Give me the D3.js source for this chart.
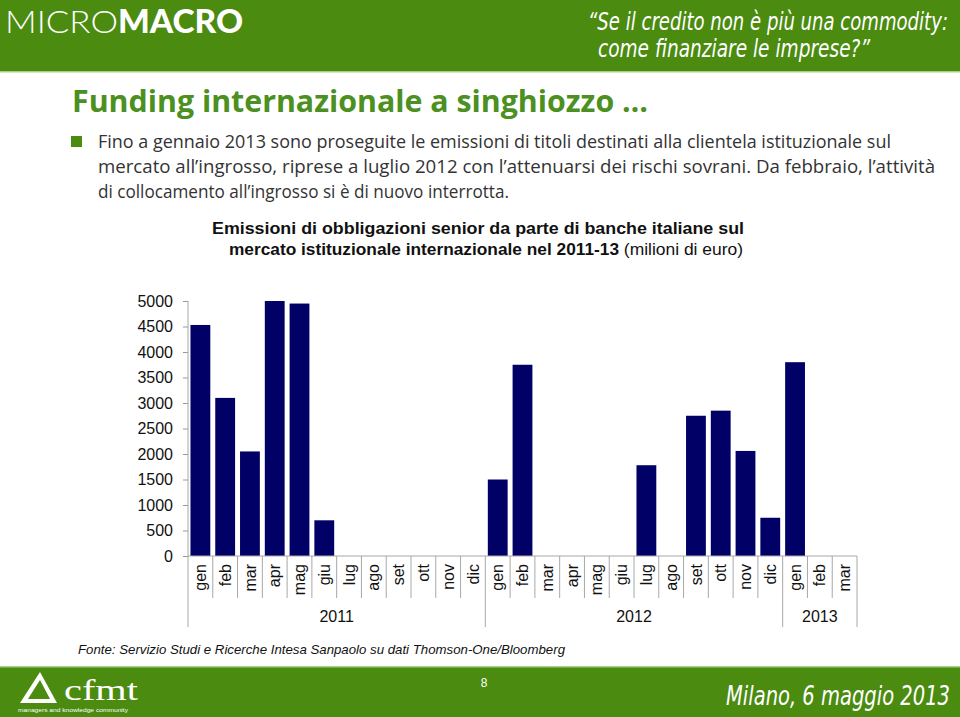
<!DOCTYPE html>
<html><head><meta charset="utf-8">
<script src="https://cdn.jsdelivr.net/npm/d3@7"></script>
<style>body{margin:0;background:#fff}svg{display:block}</style>
</head><body>
<script>
const months = ["gen","feb","mar","apr","mag","giu","lug","ago","set","ott","nov","dic",
                "gen","feb","mar","apr","mag","giu","lug","ago","set","ott","nov","dic",
                "gen","feb","mar"];
const years = ["2011","2012","2013"];
const yearCounts = [12,12,3];
const values = [4530,3100,2050,5000,4950,700,0,0,0,0,0,0,
                1500,3750,0,0,0,0,1780,0,2750,2850,2060,750,
                3800,0,0];
const yTicks = [0,500,1000,1500,2000,2500,3000,3500,4000,4500,5000];

const W=960,H=717;
const green="#4a8b10";
const svg=d3.select("body").append("svg").attr("width",W).attr("height",H);

// header
svg.append("rect").attr("x",0).attr("y",0).attr("width",W).attr("height",71).attr("fill",green);
svg.append("rect").attr("x",0).attr("y",71).attr("width",W).attr("height",1.5).attr("fill","#a9cf86");
const mm=svg.append("text").attr("x",5).attr("y",33).attr("fill","#fff")
  .style("font-family","Lato, 'Open Sans', sans-serif").style("font-size","32px");
mm.append("tspan").text("MICRO").style("font-weight","300").attr("textLength",113).attr("lengthAdjust","spacingAndGlyphs");
mm.append("tspan").text("MACRO").style("font-weight","900").attr("textLength",125).attr("lengthAdjust","spacingAndGlyphs");
const hq=[["\u201CSe il credito non è più una commodity:",588,30,360],["come finanziare le imprese?\u201D",598,57,272]];
hq.forEach(d=>svg.append("text").attr("transform",`translate(${d[1]},${d[2]}) scale(1,1.3)`).text(d[0]).attr("fill","#fff")
  .style("font-family","'Liberation Sans Narrow','DejaVu Sans Condensed',sans-serif").style("font-style","italic")
  .style("font-size","19.5px").attr("textLength",d[3]).attr("lengthAdjust","spacingAndGlyphs"));

// title
svg.append("text").attr("x",72).attr("y",112).text("Funding internazionale a singhiozzo …")
  .attr("fill","#4b9020").style("font-family","'Open Sans',sans-serif").style("font-weight","700")
  .style("font-size","31px").attr("textLength",576).attr("lengthAdjust","spacingAndGlyphs");

svg.append("rect").attr("x",71).attr("y",136).attr("width",11).attr("height",11).attr("fill",green);
const bl=[["Fino a gennaio 2013 sono proseguite le emissioni di titoli destinati alla clientela istituzionale sul",148,793],
          ["mercato all\u2019ingrosso, riprese a luglio 2012 con l\u2019attenuarsi dei rischi sovrani. Da febbraio, l\u2019attività",173,837],
          ["di collocamento all\u2019ingrosso si è di nuovo interrotta.",198,411]];
bl.forEach(d=>svg.append("text").attr("x",98).attr("y",d[1]).text(d[0]).attr("fill","#333")
  .style("font-family","'Open Sans',sans-serif").style("font-size","18px")
  .attr("textLength",d[2]).attr("lengthAdjust","spacingAndGlyphs"));

// chart title
svg.append("text").attr("x",212).attr("y",234).attr("fill","#111")
  .style("font-family","'Liberation Sans',Arial,sans-serif").style("font-size","16px").style("font-weight","700")
  .text("Emissioni di obbligazioni senior da parte di banche italiane sul")
  .attr("textLength",532).attr("lengthAdjust","spacingAndGlyphs");
const ct2=svg.append("text").attr("x",229).attr("y",255).attr("fill","#111")
  .style("font-family","'Liberation Sans',Arial,sans-serif").style("font-size","16px");
ct2.append("tspan").style("font-weight","700").text("mercato istituzionale internazionale nel 2011-13").attr("textLength",390).attr("lengthAdjust","spacingAndGlyphs");
ct2.append("tspan").text(" (milioni di euro)").attr("textLength",124).attr("lengthAdjust","spacingAndGlyphs");

// chart
const x0=188,x1=857,y0=556,yTop=301;
const keys=months.map((m,i)=>i);
const x=d3.scaleBand().domain(keys).range([x0,x1]).padding(0);
const y=d3.scaleLinear().domain([0,5000]).range([y0,yTop]);
const g=svg.append("g");
const yAxis=d3.axisLeft(y).tickValues(yTicks).tickSize(5).tickPadding(10).tickFormat(d3.format("d"));
const ya=g.append("g").attr("transform",`translate(${x0},0)`).call(yAxis);
ya.select(".domain").remove();
ya.selectAll(".tick line").attr("stroke","#999");
ya.selectAll(".tick text").attr("fill","#111").style("font-family","'Liberation Sans',Arial,sans-serif").style("font-size","16px");

g.selectAll("rect.bar").data(values).enter().append("rect").attr("class","bar")
  .attr("x",(d,i)=>x(i)+x.bandwidth()*0.1).attr("width",x.bandwidth()*0.8)
  .attr("y",d=>y(d)).attr("height",d=>y0-y(d)).attr("fill","#000066");

const grey="#a8a8a8";
g.append("line").attr("x1",x0).attr("x2",x0).attr("y1",yTop).attr("y2",627).attr("stroke",grey);
g.append("line").attr("x1",x0).attr("x2",x1).attr("y1",y0).attr("y2",y0).attr("stroke",grey);
let yearStarts=[];let acc=0;yearCounts.forEach(c=>{yearStarts.push(acc);acc+=c;});
keys.forEach(i=>{
  const bx=x(i)+x.bandwidth();
  const isYearEnd=yearStarts.includes(i+1)||i===keys.length-1;
  g.append("line").attr("x1",bx).attr("x2",bx).attr("y1",y0).attr("y2",isYearEnd?627:598).attr("stroke",grey);
});
g.selectAll("text.m").data(months).enter().append("text").attr("class","m")
  .attr("transform",(d,i)=>`translate(${x(i)+x.bandwidth()/2},564) rotate(-90)`)
  .attr("dy","0.35em").attr("text-anchor","end").text(d=>d).attr("fill","#111")
  .style("font-family","'Liberation Sans',Arial,sans-serif").style("font-size","16px");
years.forEach((yr,j)=>{
  const s=yearStarts[j],e=s+yearCounts[j]-1;
  const cx=(x(s)+x(e)+x.bandwidth())/2;
  g.append("text").attr("x",cx).attr("y",622).attr("text-anchor","middle").text(yr).attr("fill","#111")
   .style("font-family","'Liberation Sans',Arial,sans-serif").style("font-size","16px");
});

// source
svg.append("text").attr("x",78).attr("y",654).text("Fonte: Servizio Studi e Ricerche Intesa Sanpaolo su dati Thomson-One/Bloomberg")
  .attr("fill","#111").style("font-family","'Liberation Sans',Arial,sans-serif").style("font-style","italic").style("font-size","13px")
  .attr("textLength",487).attr("lengthAdjust","spacingAndGlyphs");

// footer
svg.append("rect").attr("x",0).attr("y",667).attr("width",W).attr("height",50).attr("fill",green);
svg.append("rect").attr("x",0).attr("y",666).attr("width",W).attr("height",1.5).attr("fill","#a9cf86");
svg.append("text").attr("x",484).attr("y",687).attr("text-anchor","middle").text("8").attr("fill","#fff")
  .style("font-family","'Liberation Sans',Arial,sans-serif").style("font-size","12px");
svg.append("text").attr("transform","translate(726,705) scale(1,1.2)").text("Milano, 6 maggio 2013").attr("fill","#fff")
  .style("font-family","'Liberation Sans Narrow','DejaVu Sans Condensed',sans-serif").style("font-style","italic")
  .style("font-size","22px").attr("textLength",224).attr("lengthAdjust","spacingAndGlyphs");
svg.append("path").attr("d","M20,703 L40,672 L57,703 Z M28,699 L40,680 L50,699 Z").attr("fill","#fff").attr("fill-rule","evenodd");
svg.append("text").attr("x",64).attr("y",700).text("cfmt").attr("fill","#fff")
  .style("font-family","'Liberation Serif','DejaVu Serif',serif").style("font-size","30px")
  .attr("textLength",74).attr("lengthAdjust","spacingAndGlyphs");
svg.append("text").attr("x",18).attr("y",712).text("managers   and knowledge community").attr("fill","#fff")
  .style("font-family","'Liberation Sans',Arial,sans-serif").style("font-size","5px")
  .attr("textLength",110).attr("lengthAdjust","spacingAndGlyphs");
</script>
</body></html>
